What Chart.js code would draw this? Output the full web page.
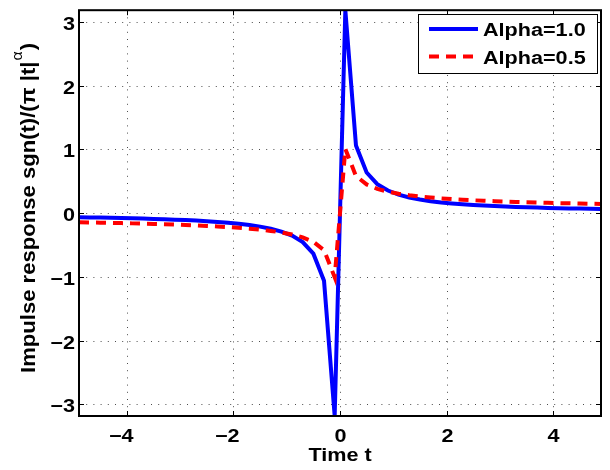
<!DOCTYPE html>
<html>
<head>
<meta charset="utf-8">
<script src="https://cdn.jsdelivr.net/npm/chart.js@4.4.0/dist/chart.umd.min.js"></script>
<style>
  html, body { margin: 0; padding: 0; background: #fff; }
  #wrap { width: 610px; height: 470px; position: relative; }
</style>
</head>
<body>
<div id="wrap"><canvas id="chart"></canvas></div>
<script>
// sample times (s)
var times = [-4.9, -4.7, -4.5, -4.3, -4.1, -3.9, -3.7, -3.5, -3.3, -3.1,
  -2.9, -2.7, -2.5, -2.3, -2.1, -1.9, -1.7, -1.5, -1.3, -1.1,
  -0.9, -0.7, -0.5, -0.3, -0.1, 0.1, 0.3, 0.5, 0.7, 0.9,
  1.1, 1.3, 1.5, 1.7, 1.9, 2.1, 2.3, 2.5, 2.7, 2.9,
  3.1, 3.3, 3.5, 3.7, 3.9, 4.1, 4.3, 4.5, 4.7, 4.9];

var alpha10 = [-0.0650, -0.0677, -0.0707, -0.0740, -0.0776, -0.0816, -0.0860, -0.0909, -0.0965, -0.1027,
  -0.1098, -0.1179, -0.1273, -0.1384, -0.1516, -0.1675, -0.1872, -0.2122, -0.2449, -0.2894,
  -0.3537, -0.4547, -0.6366, -1.0610, -3.1831, 3.1831, 1.0610, 0.6366, 0.4547, 0.3537,
  0.2894, 0.2449, 0.2122, 0.1872, 0.1675, 0.1516, 0.1384, 0.1273, 0.1179, 0.1098,
  0.1027, 0.0965, 0.0909, 0.0860, 0.0816, 0.0776, 0.0740, 0.0707, 0.0677, 0.0650];

var alpha05 = [-0.1438, -0.1468, -0.1501, -0.1535, -0.1572, -0.1612, -0.1655, -0.1701, -0.1752, -0.1808,
  -0.1869, -0.1937, -0.2013, -0.2099, -0.2197, -0.2309, -0.2441, -0.2599, -0.2792, -0.3035,
  -0.3355, -0.3804, -0.4502, -0.5812, -1.0066, 1.0066, 0.5812, 0.4502, 0.3804, 0.3355,
  0.3035, 0.2792, 0.2599, 0.2441, 0.2309, 0.2197, 0.2099, 0.2013, 0.1937, 0.1869,
  0.1808, 0.1752, 0.1701, 0.1655, 0.1612, 0.1572, 0.1535, 0.1501, 0.1468, 0.1438];

var seriesLabels = ['Alpha=1.0', 'Alpha=0.5'];
var xTitle = 'Time t';

var FONT = '"Liberation Sans", Arial, Helvetica, sans-serif';
var BOLD = 'bold 18px ' + FONT;
var STRETCH = 1.2;   // the reference text is drawn wide

function toPoints(ys) {
  var pts = [];
  for (var i = 0; i < times.length; i++) pts.push({ x: times[i], y: ys[i] });
  return pts;
}

function wideText(ctx, text, x, y, align) {
  ctx.save();
  ctx.translate(x, y);
  ctx.scale(STRETCH, 1);
  ctx.textAlign = align;
  ctx.fillText(text, 0, 0);
  ctx.restore();
}

// dotted grid, inward ticks, frame, tick labels, legend and axis titles
var decorations = {
  id: 'decorations',
  beforeDatasetsDraw: function(chart) {
    var ctx = chart.ctx, a = chart.chartArea;
    var sx = chart.scales.x, sy = chart.scales.y;
    ctx.save();
    ctx.strokeStyle = 'rgba(0,0,0,0.7)';
    ctx.lineWidth = 1;
    ctx.setLineDash([1, 6.2]);
    sx.ticks.forEach(function(t) {
      var px = Math.round(sx.getPixelForValue(t.value)) + 0.5;
      ctx.beginPath(); ctx.moveTo(px, a.top); ctx.lineTo(px, a.bottom); ctx.stroke();
    });
    sy.ticks.forEach(function(t) {
      var py = Math.round(sy.getPixelForValue(t.value)) + 0.5;
      ctx.beginPath(); ctx.moveTo(a.left, py); ctx.lineTo(a.right, py); ctx.stroke();
    });
    ctx.restore();
  },
  afterDraw: function(chart) {
    var ctx = chart.ctx, a = chart.chartArea;
    var sx = chart.scales.x, sy = chart.scales.y;
    ctx.save();
    ctx.setLineDash([]);
    ctx.strokeStyle = '#000';
    ctx.fillStyle = '#000';
    ctx.lineWidth = 1;
    ctx.font = BOLD;
    ctx.textBaseline = 'alphabetic';
    var tl = 5;
    sx.ticks.forEach(function(t) {
      var px = Math.round(sx.getPixelForValue(t.value)) + 0.5;
      ctx.beginPath();
      ctx.moveTo(px, a.bottom); ctx.lineTo(px, a.bottom - tl);
      ctx.moveTo(px, a.top); ctx.lineTo(px, a.top + tl);
      ctx.stroke();
      // digits centred on the tick, minus sign hanging to the left
      var num = String(Math.abs(t.value));
      var w = ctx.measureText(num).width * STRETCH;
      wideText(ctx, (t.value < 0 ? '\u2212' : '') + num, px + w / 2, 442, 'right');
    });
    sy.ticks.forEach(function(t) {
      var py = Math.round(sy.getPixelForValue(t.value)) + 0.5;
      ctx.beginPath();
      ctx.moveTo(a.left, py); ctx.lineTo(a.left + tl, py);
      ctx.moveTo(a.right, py); ctx.lineTo(a.right - tl, py);
      ctx.stroke();
      var s = (t.value < 0 ? '\u2212' : '') + Math.abs(t.value);
      wideText(ctx, s, a.left - 4, py + 7, 'right');
    });
    ctx.lineWidth = 2;
    ctx.strokeRect(a.left, a.top, a.right - a.left, a.bottom - a.top);

    // legend box
    var lx = 418, ly = 14, lw = 179, lh = 59;
    ctx.fillStyle = '#fff';
    ctx.fillRect(lx, ly, lw, lh);
    ctx.lineWidth = 1;
    ctx.strokeRect(lx + 0.5, ly + 0.5, lw, lh);
    chart.data.datasets.forEach(function(ds, i) {
      var yy = ly + 15 + i * 27.5;
      ctx.strokeStyle = ds.borderColor;
      ctx.lineWidth = ds.borderWidth;
      ctx.setLineDash(ds.borderDash || []);
      ctx.beginPath(); ctx.moveTo(429, yy); ctx.lineTo(478, yy); ctx.stroke();
      ctx.setLineDash([]);
      ctx.fillStyle = '#000';
      ctx.font = BOLD;
      wideText(ctx, ds.label, 483, yy + 7, 'left');
    });

    // x title
    ctx.font = BOLD;
    wideText(ctx, xTitle, (a.left + a.right) / 2, 461, 'center');

    // y title with superscript alpha
    var main = 'Impulse response sgn(t)/(\u03c0 |t|';
    var sup = '\u03b1';
    var tail = ')';
    var big = 'bold 21px ' + FONT, small = '15px ' + FONT;
    ctx.font = big;
    var w1 = ctx.measureText(main).width;
    var w3 = ctx.measureText(tail).width;
    ctx.font = small;
    var w2 = ctx.measureText(sup).width + 2;
    var total = w1 + w2 + w3;
    var target = 330;
    ctx.translate(35, 208);
    ctx.rotate(-Math.PI / 2);
    ctx.scale(target / total, 1);
    ctx.textAlign = 'left';
    var x0 = -total / 2;
    ctx.font = big;
    ctx.fillText(main, x0, 0);
    ctx.font = small;
    ctx.fillText(sup, x0 + w1 + 1, -13);
    ctx.font = big;
    ctx.fillText(tail, x0 + w1 + w2, 0);
    ctx.restore();
  }
};

var ctx = document.getElementById('chart').getContext('2d');
var chart = new Chart(ctx, {
  type: 'line',
  data: {
    datasets: [
      {
        label: seriesLabels[0],
        data: toPoints(alpha10),
        borderColor: '#0000ff',
        borderWidth: 4,
        pointRadius: 0,
        tension: 0,
        order: 1
      },
      {
        label: seriesLabels[1],
        data: toPoints(alpha05),
        borderColor: '#ff0000',
        borderWidth: 4,
        borderDash: [10, 7],
        pointRadius: 0,
        tension: 0,
        order: 0
      }
    ]
  },
  options: {
    responsive: true,
    maintainAspectRatio: false,
    animation: false,
    devicePixelRatio: 1,
    layout: { padding: { left: 0, top: 4, right: 9, bottom: 0 } },
    plugins: {
      legend: { display: false },
      tooltip: { enabled: false }
    },
    scales: {
      x: {
        type: 'linear',
        min: -4.9,
        max: 4.9,
        grid: { display: false, drawTicks: false },
        border: { display: false },
        ticks: { stepSize: 2, includeBounds: false, color: 'rgba(0,0,0,0)' },
        afterFit: function(scale) { scale.height = 54; }
      },
      y: {
        min: -3.1831,
        max: 3.1831,
        grid: { display: false, drawTicks: false },
        border: { display: false },
        ticks: { stepSize: 1, includeBounds: false, color: 'rgba(0,0,0,0)' },
        afterFit: function(scale) { scale.width = 79; }
      }
    }
  },
  plugins: [decorations]
});
</script>
</body>
</html>
